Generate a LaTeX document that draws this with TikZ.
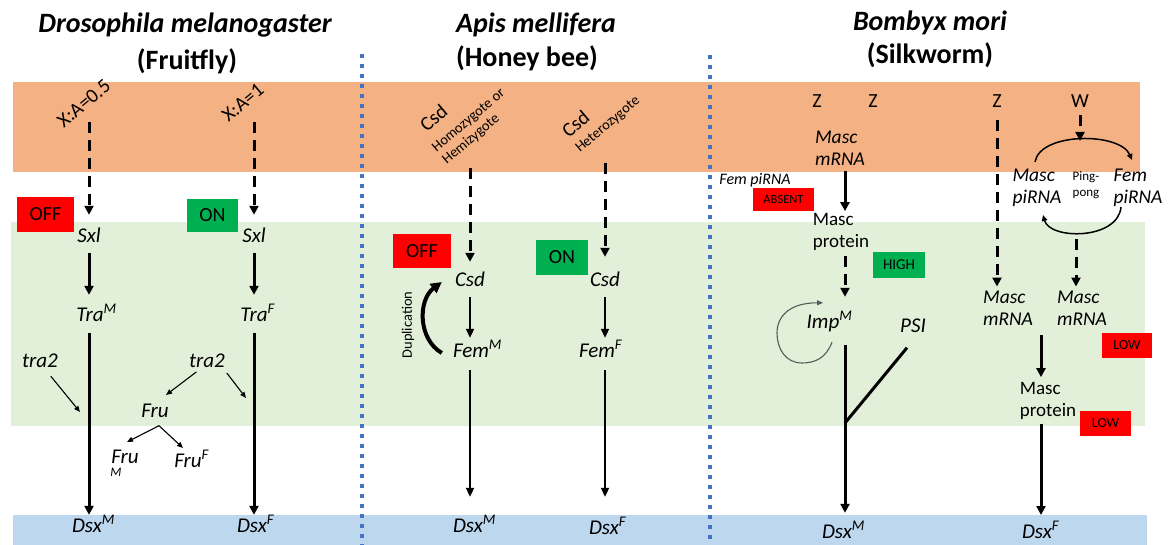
\documentclass[tikz,border=0pt]{standalone}
\usepackage{fontspec}
\setmainfont{Carlito}
\usetikzlibrary{arrows.meta,calc}

\definecolor{bandorange}{HTML}{F4B183}
\definecolor{bandgreen}{HTML}{E2F0D9}
\definecolor{bandblue}{HTML}{BDD7EE}
\definecolor{sepblue}{HTML}{4472C4}
\definecolor{offred}{HTML}{FF0000}
\definecolor{ongreen}{HTML}{00B050}
\definecolor{loopgray}{HTML}{595959}

\newcommand\fsz[2]{\fontsize{#1}{#2}\selectfont}
% superscript that does not widen the node, so the gene name stays centred on its column
\newcommand\supr[1]{\rlap{\textsuperscript{#1}}}

\tikzset{
  lab/.style={font=\fsz{21}{24}\itshape, inner sep=0pt, text height=12pt, text depth=3pt},
  rlab/.style={font=\fsz{20}{22}, inner sep=0pt, text height=12pt, text depth=3pt},
  two/.style={font=\fsz{19.5}{22}\itshape, inner sep=0pt, align=left},
  twor/.style={font=\fsz{19}{22}, inner sep=0pt, align=left},
  small/.style={font=\fsz{14.5}{16}, inner sep=0pt},
  arr/.style={line width=3pt, -{Triangle[length=9pt,width=9pt]}},
  darr/.style={arr, dash pattern=on 11pt off 7pt},
  marr/.style={line width=2pt, -{Triangle[length=9pt,width=8pt]}},
  tarr/.style={line width=1.1pt, -{Triangle[length=6pt,width=5pt]}},
  parr/.style={line width=1.5pt, -{Triangle[length=6pt,width=5.5pt]}},
  badge/.style={inner sep=0pt, font=\fsz{20}{20}},
  sepline/.style={sepblue, line width=4pt, dash pattern=on 4pt off 6pt},
  titletext/.style={font=\fsz{28}{30}\bfseries\itshape, anchor=base, inner sep=0pt},
  subtitletext/.style={font=\fsz{28}{30}\bfseries, anchor=base, inner sep=0pt},
}

\begin{document}
\begin{tikzpicture}[x=1pt,y=-1pt]
\useasboundingbox (0,0) rectangle (1173,545);

% background bands
\fill[bandorange] (13,82) rectangle (1140,172);
\fill[bandgreen] (11,222) rectangle (1145,426);
\fill[bandblue] (13,515) rectangle (1147,545);

% panel separators
\draw[sepline] (362,54) -- (362,545);
\draw[sepline] (710,55) -- (710,545);

% titles
\node[titletext] (t1) at (185,33) {Drosophila melanogaster};
\node[subtitletext] (s1) at (187,70) {(Fruitfly)};
\node[titletext] (t2) at (536,33) {Apis mellifera};
\node[subtitletext] (s2) at (527,67) {(Honey bee)};
\node[titletext] (t3) at (930,31) {Bombyx mori};
\node[subtitletext] (s3) at (930,64) {(Silkworm)};

%%% Drosophila
\node[rlab, rotate=40] (xa1) at (85,105) {X:A=0.5};
\node[rlab, rotate=40] (xa2) at (244,104) {X:A=1};
\node[badge, fill=offred, minimum width=57pt, minimum height=35pt] (off1) at (45.5,214.5) {OFF};
\node[badge, fill=ongreen, minimum width=51pt, minimum height=33pt] (on1) at (212.5,215.5) {ON};

\node[lab] (sxl1) at (89,238) {Sxl};
\node[lab] (tra1) at (90,317) {Tra\supr{M}};
\node[lab] (dm1) at (87,528) {Dsx\supr{M}};
\node[lab] (sxl2) at (254,238) {Sxl};
\node[lab] (tra2) at (254,317) {Tra\supr{F}};
\node[lab] (df1) at (252,528) {Dsx\supr{F}};

\draw[darr, shorten <=17pt, shorten >=15.5pt] (xa1 -| sxl1) -- (sxl1.north);
\draw[arr, shorten <=7.5pt, shorten >=14.5pt] (sxl1.south) -- (sxl1.south |- tra1.north);
\draw[arr, shorten <=8.5pt, shorten >=5.5pt] (sxl1.south |- tra1.south) -- (sxl1.south |- dm1.north);
\draw[darr, shorten <=18pt, shorten >=15.5pt] (xa2 -| sxl2) -- (sxl2.north);
\draw[arr, shorten <=7.5pt, shorten >=14.5pt] (sxl2.south) -- (sxl2.south |- tra2.north);
\draw[arr, shorten <=8.5pt, shorten >=5.5pt] (sxl2.south |- tra2.south) -- (sxl2.south |- df1.north);

\node[lab] (tra2a) at (40,363) {tra2};
\coordinate (ha) at (80,412);
\draw[tarr, shorten <=7pt] (tra2a) -- (ha);

\node[lab] (tra2b) at (207,363) {tra2};
\node[lab] (fru) at (155,413) {Fru};
\coordinate (hb) at (166,395);
\coordinate (hc) at (246,398);
\draw[tarr, shorten <=2pt] ($(tra2b.south)!0.5!(tra2b.south west)$) -- (hb);
\draw[tarr, shorten <=3pt] (tra2b.south east) -- (hc);

\node[lab] (frum) at (125,459) {Fru};
\node[inner sep=0pt, font=\fsz{13}{13}\itshape] (frumsub) at (116,472) {M};
\node[lab] (fruf) at (188,463) {Fru\supr{F}};
\coordinate (hd) at (127,442);
\coordinate (he) at (183,448);
\draw[tarr] ($(fru.south)+(4,5)$) -- (hd);
\draw[tarr] ($(fru.south)+(4,5)$) -- (he);

%%% Apis
\node[rlab, rotate=40] (csdt1) at (435,120) {Csd};
\node[small, align=left, rotate=40] (homo) at (474,127) {Homozygote or\\Hemizygote};
\node[rlab, rotate=40] (csdt2) at (577,126) {Csd};
\node[small, rotate=40] (het) at (608,125) {Heterozygote};

\node[badge, fill=offred, minimum width=58pt, minimum height=34pt] (off2) at (422,251) {OFF};
\node[badge, fill=ongreen, minimum width=52pt, minimum height=35pt] (on2) at (562,257.5) {ON};

\node[lab] (csd1) at (470,282) {Csd};
\node[lab] (fem1) at (471,353) {Fem\supr{M}};
\node[lab] (dm2) at (468,528) {Dsx\supr{M}};
\node[lab] (csd2) at (605,282) {Csd};
\node[lab] (fem2) at (597,353) {Fem\supr{F}};
\node[lab] (df2) at (604,530) {Dsx\supr{F}};

\draw[darr, shorten <=41pt, shorten >=12.5pt] (homo -| csd1) -- (csd1.north);
\draw[marr, shorten <=7.5pt, shorten >=7.5pt] (csd1.south) -- (csd1.south |- fem1.north);
\draw[marr, shorten <=9.5pt, shorten >=23.5pt] (csd1.south |- fem1.south) -- (csd1.south |- dm2.north);
\draw[darr, shorten <=38pt, shorten >=17.5pt] (het -| csd2) -- (csd2.north);
\draw[marr, shorten <=7.5pt, shorten >=7.5pt] (csd2.south) -- (csd2.south |- fem2.north);
\draw[marr, shorten <=9.5pt, shorten >=25.5pt] (csd2.south |- fem2.south) -- (csd2.south |- df2.north);

% duplication loop from Fem back to Csd
\draw[line width=4pt, -{Triangle[length=11pt,width=11pt]}]
  ($(fem1.west)+(-11,0)$) .. controls +(-24,-14) and +(-24,18) .. ($(csd1.west)+(-13,0)$);
\node[small, rotate=90] (dup) at (408,325) {Duplication};

%%% Bombyx, male (ZZ)
\node[rlab] (z1) at (817,103) {Z};
\node[rlab] (z2) at (873,103) {Z};
\node[two] (mm1) at (840,148) {Masc\\mRNA};
\node[inner sep=0pt, font=\fsz{16}{18}\itshape] (fempi) at (755,180) {Fem piRNA};
\node[badge, font=\fsz{12.5}{13}, fill=offred, minimum width=61pt, minimum height=23pt] (absent) at (783.5,199.5) {ABSENT};
\node[twor] (mp1) at (841,232) {Masc\\protein};
\node[badge, font=\fsz{15}{15}, fill=ongreen, minimum width=52pt, minimum height=26pt] (high) at (899,265) {HIGH};
\node[lab] (imp) at (823,324) {Imp\supr{M}};
\node[lab] (psi) at (913,328) {PSI};
\node[lab] (dm3) at (837,534) {Dsx\supr{M}};
\coordinate (jn) at (845,423);

\draw[arr, shorten <=6pt, shorten >=2pt] (mm1.south -| jn) -- (mp1.north -| jn);
\draw[darr, shorten <=5pt, shorten >=19.5pt] (mp1.south -| jn) -- (imp.north -| jn);
\draw[line width=3pt, shorten <=13.5pt] (imp.south -| jn) -- (jn);
\draw[line width=3pt] ($(psi.south)+(-6,12)$) -- (jn);
\draw[arr, shorten >=13.5pt] (jn) -- (dm3.north -| jn);
\draw[loopgray, line width=1.1pt, -{Triangle[length=6pt,width=5pt]}]
  ($(imp.south)+(9,10.5)$) .. controls +(-6,16) and +(13,0) .. (802,363)
  .. controls +(-17,0) and +(0,15) .. (777,333)
  .. controls +(0,-17) and +(-33,0) .. ($(imp.north)+(0,-13.5)$);

%%% Bombyx, female (ZW)
\node[rlab] (z3) at (997,103) {Z};
\node[rlab] (w) at (1080,103) {W};
\node[two] (mpi) at (1037,188) {Masc\\piRNA};
\node[two] (fpi) at (1138,188) {Fem\\piRNA};
\node[inner sep=0pt, font=\fsz{13}{16}, align=center] (ping) at (1086,185) {Ping-\\pong};
\coordinate (ptop) at (1080,141);
\coordinate (pbot) at (1076,239);

\draw[parr] ($(mpi.north)+(-2,-7)$) .. controls +(5,-30) and +(-12,-28) .. ($(fpi.north)+(-6,-9)$);
\draw[parr] ($(fpi.south)+(-17,0)$) .. controls +(-3,33) and +(7,25) .. ($(mpi.south)+(6,8)$);
\draw[darr, shorten <=4.5pt] (w.south) -- (ptop);

\node[two] (mm2) at (1008,308) {Masc\\mRNA};
\node[two] (mm3) at (1082,308) {Masc\\mRNA};
\node[badge, font=\fsz{14}{14}, fill=offred, minimum width=50pt, minimum height=25pt] (low1) at (1127,345.5) {LOW};
\node[twor] (mp2) at (1048,401) {Masc\\protein};
\node[badge, font=\fsz{14}{14}, fill=offred, minimum width=51pt, minimum height=25pt] (low2) at (1105.5,423.5) {LOW};
\node[lab] (df3) at (1037,534) {Dsx\supr{F}};
\coordinate (tipF) at (1041,515);

\draw[darr, shorten <=9.5pt, shorten >=4pt] (z3.south) -- (z3.south |- mm2.north);
\draw[darr, shorten >=4pt] (pbot) -- (pbot |- mm3.north);
\draw[arr, shorten <=10pt, shorten >=5pt] (mm2.south -| tipF) -- (mp2.north -| tipF);
\draw[arr, shorten <=4pt] (mp2.south -| tipF) -- (tipF);

\end{tikzpicture}
\end{document}
